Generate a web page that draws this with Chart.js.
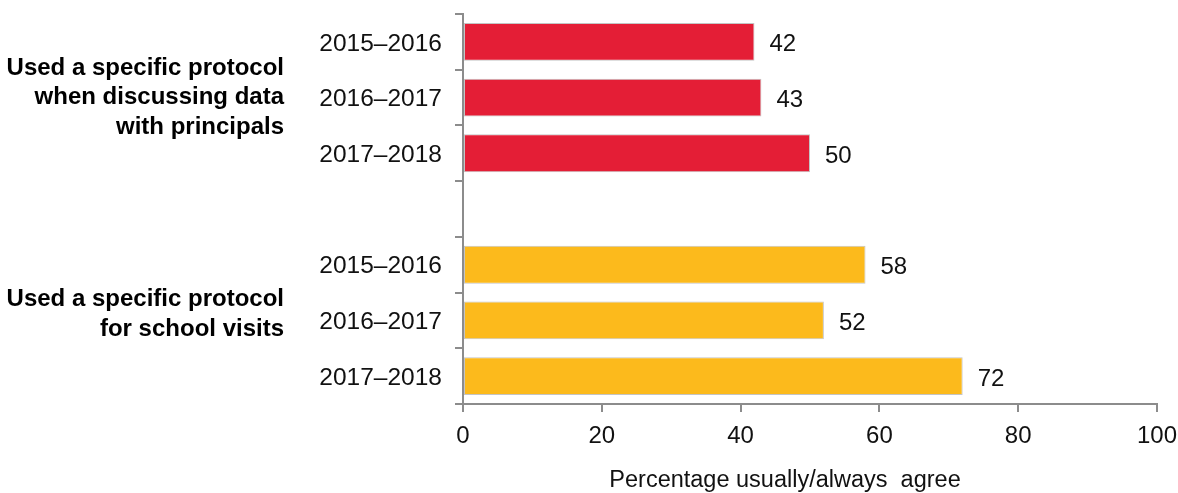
<!DOCTYPE html>
<html>
<head>
<meta charset="utf-8">
<script src="https://cdn.jsdelivr.net/npm/chart.js@4"></script>
<style>
  html, body { margin: 0; padding: 0; background: #fff; }
  #wrap { width: 1178px; height: 493px; }
</style>
</head>
<body>
<div id="wrap"><canvas id="chart"></canvas></div>
<script>
const years = ["2015–2016", "2016–2017", "2017–2018", "", "2015–2016", "2016–2017", "2017–2018"];
const values = [42, 43, 50, null, 58, 52, 72];
const barColors = ["#e41e36", "#e41e36", "#e41e36", "#ffffff", "#fcba1c", "#fcba1c", "#fcba1c"];
const groupNames = [
  ["Used a specific protocol", "when discussing data", "with principals"],
  ["Used a specific protocol", "for school visits"],
];
const groupRows = [[0, 1, 2], [4, 5, 6]];
const xTicks = [0, 20, 40, 60, 80, 100];
const xTitle = "Percentage usually/always  agree";

const FONT = "'Liberation Sans', Arial, sans-serif";
const AXIS = "#8c8c8c";
// the second group label sits a little above its rows' centre in the original
const groupShift = [0, -6];

const valueLabels = {
  id: "valueLabels",
  afterDatasetsDraw(chart) {
    const ctx = chart.ctx;
    const meta = chart.getDatasetMeta(0);
    ctx.save();
    ctx.font = "24px " + FONT;
    ctx.fillStyle = "#111";
    ctx.textBaseline = "middle";
    ctx.textAlign = "left";
    meta.data.forEach((bar, i) => {
      if (values[i] == null) return;
      ctx.fillText(String(values[i]), bar.x + 15, bar.y + 3);
    });
    ctx.restore();
  },
};

const groupLabels = {
  id: "groupLabels",
  afterDraw(chart) {
    const ctx = chart.ctx;
    const y = chart.scales.y;
    const x = chart.scales.x;
    ctx.save();
    ctx.font = "bold 24px " + FONT;
    ctx.fillStyle = "#000";
    ctx.textAlign = "right";
    ctx.textBaseline = "middle";
    const lh = 29.5;
    groupNames.forEach((lines, g) => {
      const rows = groupRows[g];
      const mid = rows.reduce((s, r) => s + y.getPixelForValue(r), 0) / rows.length + groupShift[g];
      const start = mid - (lines.length - 1) * lh / 2;
      lines.forEach((t, k) => ctx.fillText(t, 284, start + k * lh));
    });
    // axis title, a bit left of the axis centre as in the original
    ctx.font = "23.5px " + FONT;
    ctx.fillStyle = "#111";
    ctx.textAlign = "center";
    ctx.fillText(xTitle, x.getPixelForValue(46.4), 481);
    ctx.restore();
  },
};

new Chart(document.getElementById("chart"), {
  type: "bar",
  data: {
    labels: years,
    datasets: [
      {
        data: values,
        backgroundColor: barColors,
        borderColor: "#c4c4c4",
        borderWidth: 1,
        borderSkipped: false,
        barPercentage: 0.68,
        categoryPercentage: 1,
      },
    ],
  },
  options: {
    indexAxis: "y",
    responsive: true,
    maintainAspectRatio: false,
    animation: false,
    devicePixelRatio: 1,
    layout: { padding: { top: 14, right: 21, left: 0, bottom: 0 } },
    plugins: {
      legend: { display: false },
      tooltip: { enabled: false },
    },
    scales: {
      x: {
        min: 0,
        max: 100,
        afterBuildTicks: (scale) => { scale.ticks = xTicks.map((v) => ({ value: v })); },
        afterFit: (scale) => {
          scale.height = 89;
          scale.paddingLeft = 0;
          scale.paddingRight = 0;
        },
        grid: { drawOnChartArea: false, drawTicks: true, tickLength: 8, color: AXIS, lineWidth: 2 },
        border: { color: AXIS, width: 2 },
        ticks: { color: "#111", font: { family: FONT, size: 24 }, padding: 10, maxRotation: 0 },
      },
      y: {
        offset: true,
        afterFit: (scale) => {
          scale.width = 463;
          scale.paddingTop = 0;
          scale.paddingBottom = 0;
        },
        grid: { offset: true, drawOnChartArea: false, drawTicks: true, tickLength: 8, color: AXIS, lineWidth: 2 },
        border: { color: AXIS, width: 2 },
        ticks: { color: "#111", font: { family: FONT, size: 24.5 }, padding: 13, labelOffset: 2, autoSkip: false },
      },
    },
  },
  plugins: [valueLabels, groupLabels],
});
</script>
</body>
</html>
